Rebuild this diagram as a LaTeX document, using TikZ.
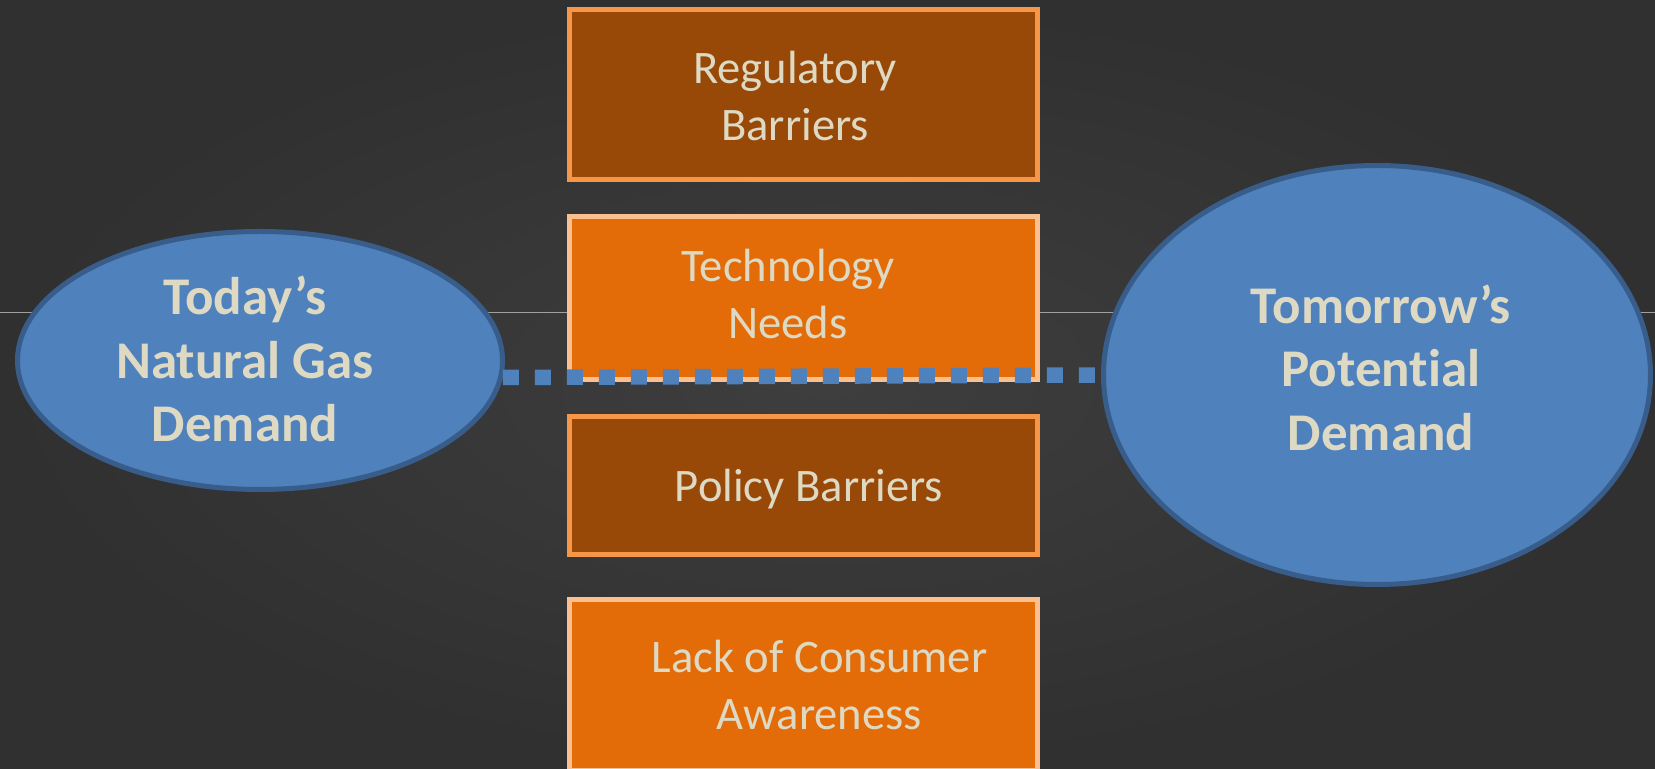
\documentclass[tikz,border=0pt]{standalone}
\usepackage{fontspec}
\setmainfont{Carlito}[Ligatures=NoCommon]
\usetikzlibrary{shapes.geometric}
\definecolor{bgin}{HTML}{3E3E3E}
\definecolor{bgout}{HTML}{303030}
\definecolor{rulegray}{HTML}{A0A0A0}
\definecolor{bubblefill}{HTML}{4F81BD}
\definecolor{bubbleline}{HTML}{385D8A}
\definecolor{darkfill}{HTML}{984807}
\definecolor{darkline}{HTML}{F79646}
\definecolor{lightfill}{HTML}{E36C09}
\definecolor{lightline}{HTML}{FAC090}
\definecolor{cream}{HTML}{DDD9C3}
\begin{document}
\begin{tikzpicture}[x=0.5pt,y=-0.5pt,
		bubble/.style={ellipse,draw=bubbleline,fill=bubblefill,line width=2.5pt,inner sep=0pt},
		darkbox/.style={rectangle,draw=darkline,fill=darkfill,line width=2.5pt,inner sep=0pt,minimum width=234pt},
		lightbox/.style={rectangle,draw=lightline,fill=lightfill,line width=2.5pt,inner sep=0pt,minimum width=234pt},
		boxtext/.style={text=cream,align=center,inner sep=0pt,font=\fontsize{23.3}{28.5}\selectfont},
		bubbletext/.style={text=cream,align=center,inner sep=0pt,font=\fontsize{26.5}{31.75}\selectfont\bfseries},
		squaredots/.style={draw=bubblefill,line width=7.75pt,dash pattern=on 8pt off 8pt}]
		\useasboundingbox (0,0) rectangle (1655,769);
		\clip (0,0) rectangle (1655,769);
		\shade[inner color=bgin,outer color=bgout] (0,0) rectangle (1655,769);
		\coordinate (RL) at (0,313);
		\coordinate (RR) at (1655,313);
		\draw[rulegray,line width=0.5pt] (RL) -- (RR);
		\node (To) at (260,360.5) [bubble,minimum width=242.5pt,minimum height=129pt] {};
		\node (Tm) at (1377,375) [bubble,minimum width=273.5pt,minimum height=209.5pt] {};
		\node (Re) at (803.5,94.5) [darkbox,minimum height=85pt] {};
		\node (Te) at (803.5,298) [lightbox,minimum height=81.5pt] {};
		\node (Po) at (803.5,485.5) [darkbox,minimum height=69pt] {};
		\node (La) at (803.5,685) [lightbox,minimum height=85pt] {};
		\node (ToTxt) at (245,359) [bubbletext] {Today’s\\Natural Gas\\Demand};
		\node (TmTxt) at (1381,367.5) [bubbletext] {Tomorrow’s\\Potential\\Demand};
		\node (ReTxt) at (795,96) [boxtext] {Regulatory\\Barriers};
		\node (TeTxt) at (788,294) [boxtext] {Technology\\Needs};
		\node (PoTxt) at (809,485) [boxtext,text depth=0pt] {Policy Barriers};
		\node (LaTxt) at (819.5,685) [boxtext] {Lack of Consumer\\Awareness};
		\draw[squaredots] (To.-4.6) -- (Tm.west);
	\end{tikzpicture}
\end{document}
